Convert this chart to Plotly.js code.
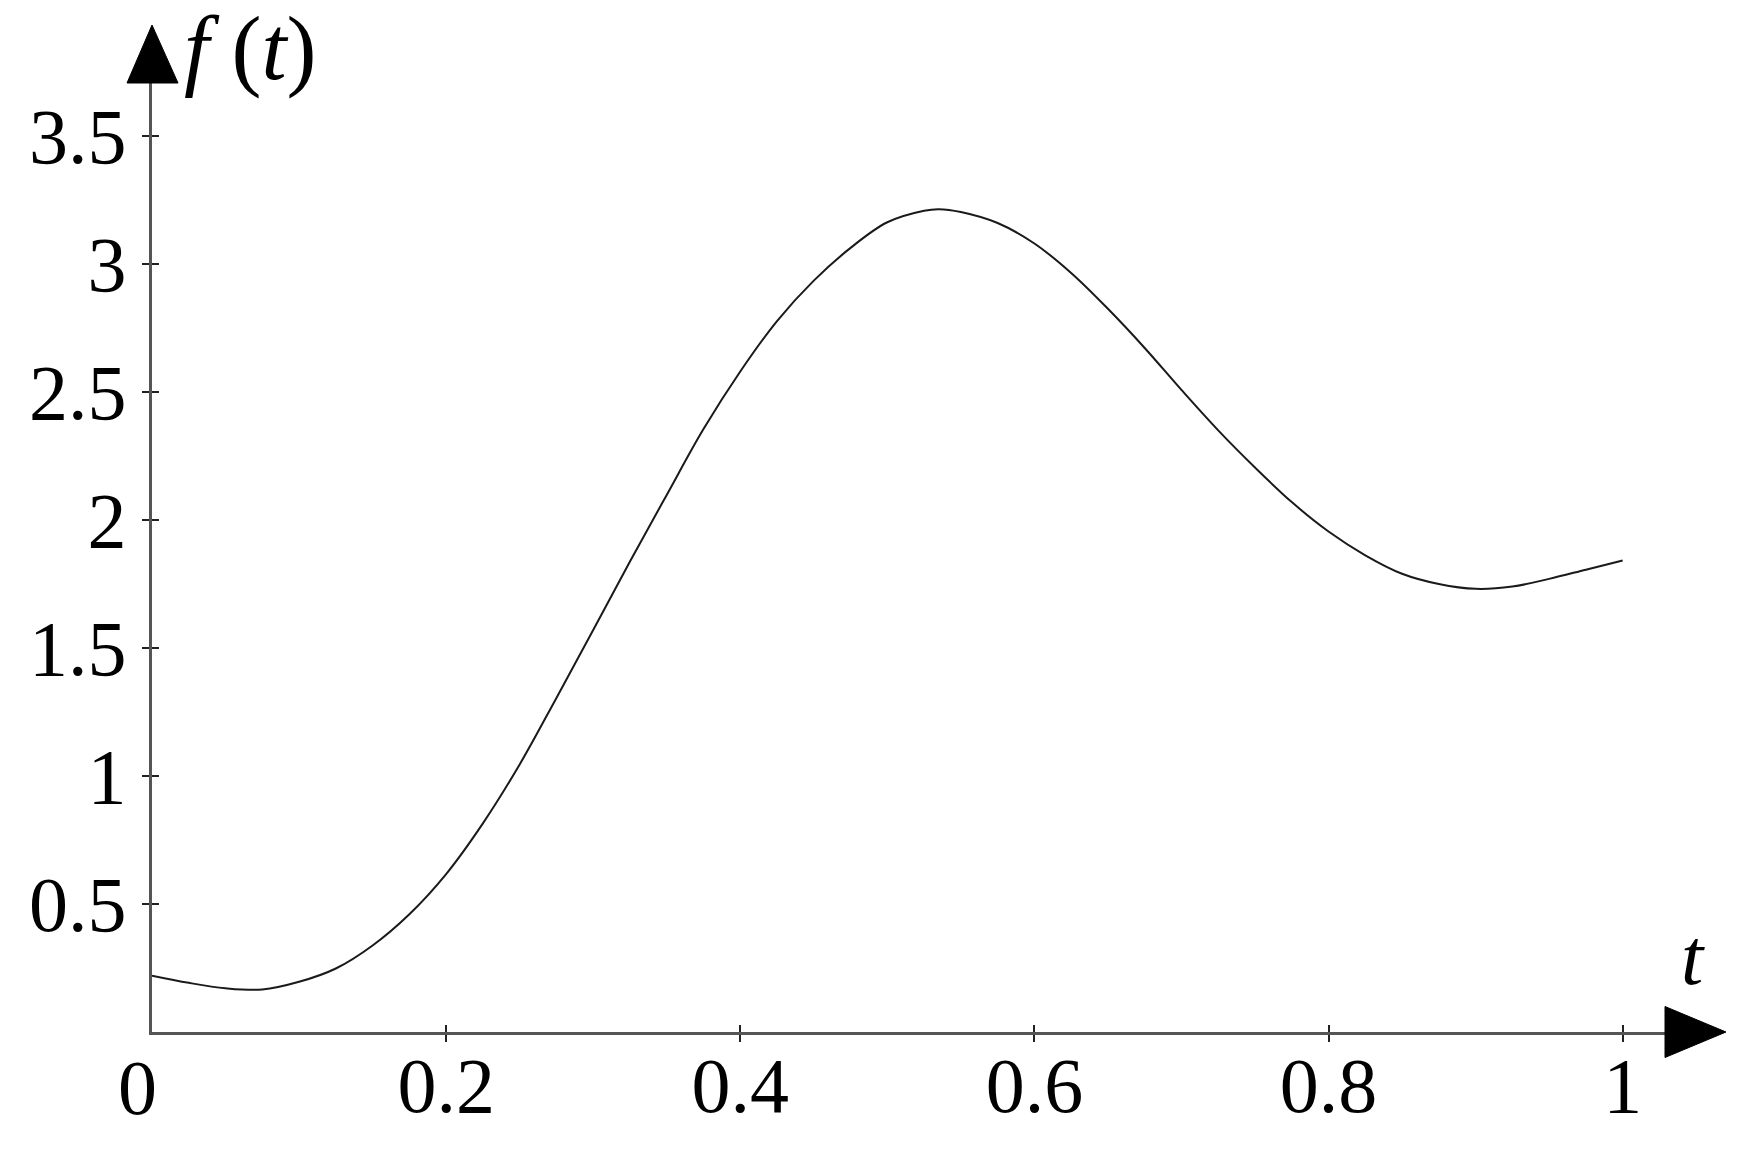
<!DOCTYPE html>
<html>
<head>
<meta charset="utf-8">
<script src="https://cdn.plot.ly/plotly-3.0.1.min.js"></script>
<style>html,body{margin:0;padding:0;background:#fff;}#chart{width:1756px;height:1157px;}</style>
</head>
<body>
<div id="chart"></div>
<script>
// Data
const tValues = [0, 0.025, 0.05, 0.075, 0.1, 0.125, 0.15, 0.175, 0.2, 0.225, 0.25, 0.275, 0.3, 0.325, 0.35, 0.375, 0.4, 0.425, 0.45, 0.475, 0.5, 0.525, 0.535, 0.55, 0.575, 0.6, 0.625, 0.65, 0.675, 0.7, 0.725, 0.75, 0.775, 0.8, 0.825, 0.85, 0.875, 0.9, 0.925, 0.95, 0.975, 1.0];
const fValues = [0.220, 0.192, 0.171, 0.166, 0.196, 0.248, 0.338, 0.460, 0.617, 0.815, 1.045, 1.305, 1.570, 1.838, 2.098, 2.355, 2.580, 2.777, 2.935, 3.063, 3.163, 3.208, 3.214, 3.203, 3.160, 3.080, 2.965, 2.825, 2.672, 2.508, 2.350, 2.205, 2.070, 1.955, 1.862, 1.790, 1.750, 1.731, 1.740, 1.770, 1.806, 1.842];
const xTickVals = [0.2, 0.4, 0.6, 0.8, 1];
const xTickText = ['0.2', '0.4', '0.6', '0.8', '1'];
const yTickVals = [0.5, 1, 1.5, 2, 2.5, 3, 3.5];
const yTickText = ['0.5', '1', '1.5', '2', '2.5', '3', '3.5'];
const originLabel = '0';
const xLabel = '<i>t</i>';
const yLabel = '<i>f</i>&nbsp;(<i>t</i>)';

const FONT = 'Liberation Serif, Times New Roman, serif';
const xRange = [0, 1.0288];
const yRange = [0, 3.707];

const traces = [
  {x: tValues, y: fValues, type: 'scatter', mode: 'lines',
   line: {color: '#1a1a1a', width: 2, shape: 'spline', smoothing: 1}, hoverinfo: 'skip', showlegend: false, cliponaxis: false},
  {x: [], y: [], xaxis: 'x2', yaxis: 'y2', type: 'scatter', mode: 'lines', showlegend: false}
];

const axisCommon = {showgrid: false, zeroline: false, fixedrange: true};

const layout = {
  width: 1756, height: 1157,
  margin: {l: 152, r: 91, t: 83, b: 125, pad: 0},
  paper_bgcolor: '#ffffff', plot_bgcolor: '#ffffff',
  showlegend: false,
  font: {family: FONT, color: '#000'},
  xaxis: Object.assign({}, axisCommon, {
    range: xRange, showline: true, linecolor: '#555', linewidth: 3,
    tickmode: 'array', tickvals: xTickVals, ticktext: xTickText,
    ticks: 'outside', ticklen: 7, tickwidth: 2, tickcolor: '#222',
    tickfont: {family: FONT, size: 78, color: '#000'}, ticklabelstandoff: -24
  }),
  yaxis: Object.assign({}, axisCommon, {
    range: yRange, showline: true, linecolor: '#555', linewidth: 3,
    tickmode: 'array', tickvals: yTickVals, ticktext: yTickText,
    ticks: 'outside', ticklen: 7, tickwidth: 2, tickcolor: '#222',
    tickfont: {family: FONT, size: 78, color: '#000'}, ticklabelstandoff: 0
  }),
  xaxis2: Object.assign({}, axisCommon, {
    range: xRange, overlaying: 'x', anchor: 'y2', side: 'bottom', showline: false,
    tickmode: 'array', tickvals: xTickVals, showticklabels: false,
    ticks: 'inside', ticklen: 7, tickwidth: 2, tickcolor: '#222'
  }),
  yaxis2: Object.assign({}, axisCommon, {
    range: yRange, overlaying: 'y', anchor: 'x2', side: 'left', showline: false,
    tickmode: 'array', tickvals: yTickVals, showticklabels: false,
    ticks: 'inside', ticklen: 7, tickwidth: 2, tickcolor: '#222'
  }),
  shapes: [
    {type: 'path', xref: 'paper', yref: 'paper', xsizemode: 'pixel', ysizemode: 'pixel',
     xanchor: 1, yanchor: 0, path: 'M 0 -25.5 L 61 0 L 0 25.5 Z',
     fillcolor: '#000', line: {color: '#000', width: 1}, layer: 'above'},
    {type: 'path', xref: 'paper', yref: 'paper', xsizemode: 'pixel', ysizemode: 'pixel',
     xanchor: 0, yanchor: 1, path: 'M -25 0 L 26 0 L 0 58 Z',
     fillcolor: '#000', line: {color: '#000', width: 1}, layer: 'above'}
  ],
  annotations: [
    {xref: 'paper', yref: 'paper', x: 0, y: 0, xanchor: 'center', yanchor: 'top',
     xshift: -15, yshift: -10, text: originLabel, showarrow: false,
     font: {family: FONT, size: 78, color: '#000'}},
    {xref: 'paper', yref: 'paper', x: 1, y: 0, xanchor: 'center', yanchor: 'middle',
     xshift: 28, yshift: 75, text: xLabel, showarrow: false,
     font: {family: FONT, size: 80, color: '#000'}},
    {xref: 'paper', yref: 'paper', x: 0, y: 1, xanchor: 'left', yanchor: 'middle',
     xshift: 30, yshift: 34, text: yLabel, showarrow: false,
     font: {family: FONT, size: 90, color: '#000'}}
  ]
};

Plotly.newPlot('chart', traces, layout, {staticPlot: true, displayModeBar: false});
</script>
</body>
</html>
